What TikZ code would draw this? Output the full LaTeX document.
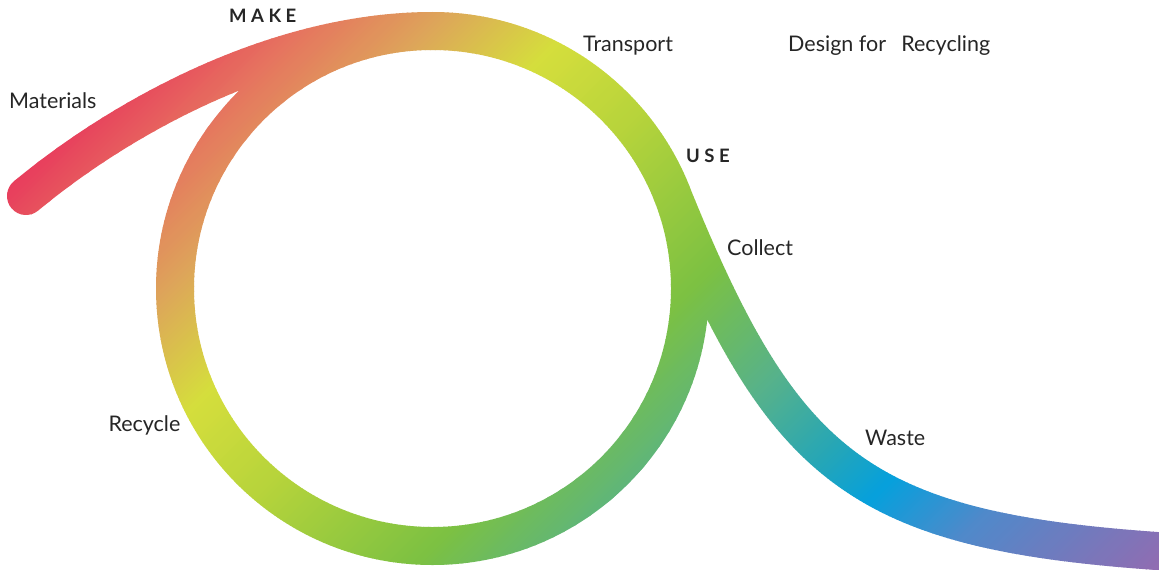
\documentclass[tikz,border=0pt]{standalone}
\usepackage{fontspec}
\setmainfont{Lato}
\definecolor{g0}{HTML}{E8345C}
\definecolor{g1}{HTML}{E6745F}
\definecolor{g2}{HTML}{DDA65A}
\definecolor{g3}{HTML}{D5DE3C}
\definecolor{g4}{HTML}{B5D33B}
\definecolor{g5}{HTML}{7CC142}
\definecolor{g6}{HTML}{57B28A}
\definecolor{g7}{HTML}{26A6B6}
\definecolor{g8}{HTML}{06A0DC}
\definecolor{g9}{HTML}{5089CA}
\definecolor{g10}{HTML}{9A68AE}
\definecolor{txt}{HTML}{262626}
\tikzset{
  looppath/.style={insert path={
    (432.5,288.5) circle[radius=257.5]
    (26,196) .. controls (120,118) and (275,31) .. (432.5,31)
    (671.2,192.0) .. controls (783.5,470) and (860,531) .. (1164,551.5)}},
  band/.style={line width=38pt, line cap=round},
  lbl/.style={inner sep=0pt, anchor=base west, text=txt, font=\fontsize{21.5}{24}\selectfont},
  blbl/.style={inner sep=0pt, anchor=base west, text=txt, font=\fontsize{18.5}{22}\selectfont\bfseries}
}
\begin{document}
\begin{tikzpicture}[x=1pt,y=-1pt]
\useasboundingbox (0,0) rectangle (1159,570);
\fill[white] (0,0) rectangle (1159,570);
\foreach \sa/\sb/\ca/\cb in {175/330/g0/g1, 330/460/g1/g2, 460/600/g2/g3, 600/760/g3/g4, 760/980/g4/g5, 980/1150/g5/g6, 1150/1280/g6/g7, 1280/1370/g7/g8, 1370/1500/g8/g9, 1500/1760/g9/g10}{
  \pgfmathtruncatemacro\nn{round((\sb-\sa)/5)}
  \foreach \i in {1,...,\nn}{
    \pgfmathsetmacro\lo{\sa+(\i-1)*(\sb-\sa)/\nn}
    \pgfmathsetmacro\hi{\sa+\i*(\sb-\sa)/\nn+0.9}
    \pgfmathtruncatemacro\pc{round(100*(1-(\i-0.5)/\nn))}
    \colorlet{bandc}{\ca!\pc!\cb}
    \begin{scope}
      \clip ({\lo+300},-300) -- ({\lo-900},900) -- ({\hi-900},900) -- ({\hi+300},-300) -- cycle;
      \draw[band, draw=bandc, looppath];
    \end{scope}
  }
}
\node[lbl] (materials) at (9,108.3) {Materials};
\node[blbl] (make) at (229,22.5) {M\kern4.5pt A\kern4.5pt K\kern4.5pt E};
\node[lbl] (transport) at (583,51.7) {Transport};
\node[lbl] (design) at (788,51.7) {Design for\hspace{0.45em} Recycling};
\node[blbl] (use) at (686,162) {U\kern4.5pt S\kern4.5pt E};
\node[lbl] (collect) at (727,255) {Collect};
\node[lbl] (waste) at (865,445) {Waste};
\node[lbl] (recycle) at (108.3,431.7) {Recycle};
\end{tikzpicture}
\end{document}
